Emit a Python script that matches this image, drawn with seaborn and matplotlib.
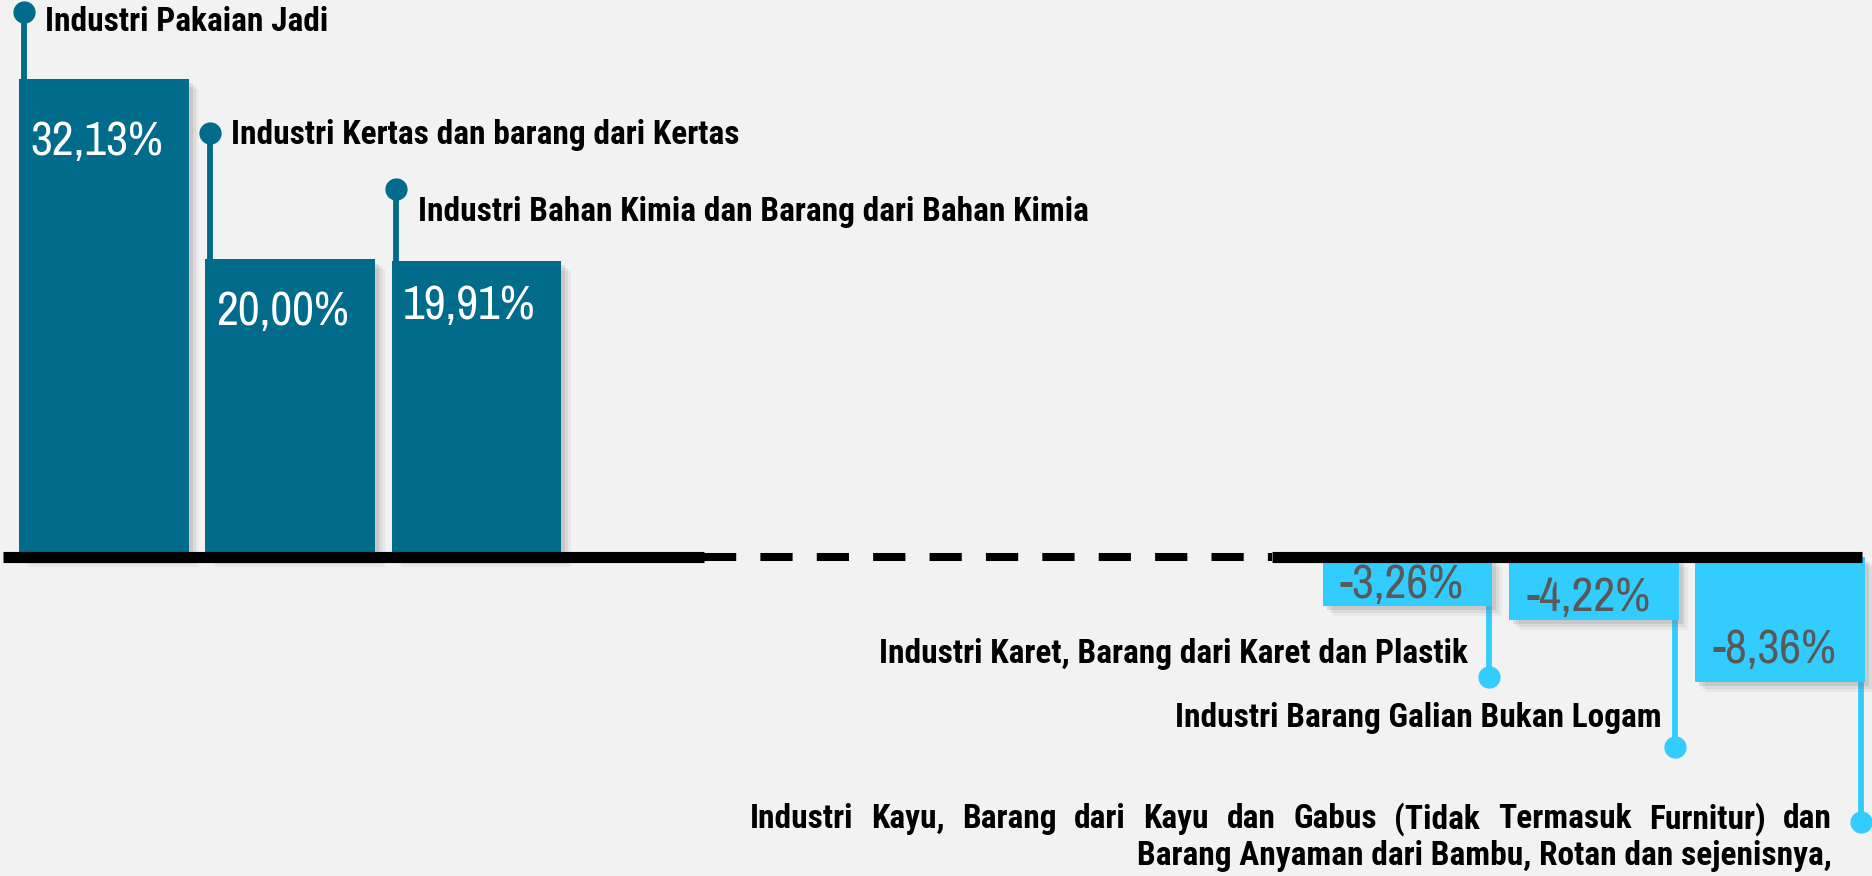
import matplotlib
matplotlib.use("Agg")
import matplotlib.pyplot as plt
import numpy as np
import pandas as pd
import seaborn as sns
from matplotlib import patheffects as pe
from matplotlib import font_manager as fm

# ---- data -------------------------------------------------------------
sektor = [
    "Industri Pakaian Jadi",
    "Industri Kertas dan barang dari Kertas",
    "Industri Bahan Kimia dan Barang dari Bahan Kimia",
    "Industri Karet, Barang dari Karet dan Plastik",
    "Industri Barang Galian Bukan Logam",
    "Industri Kayu, Barang dari Kayu dan Gabus (Tidak Termasuk Furnitur) dan "
    "Barang Anyaman dari Bambu, Rotan dan sejenisnya,",
]
pertumbuhan = [32.13, 20.00, 19.91, -3.26, -4.22, -8.36]

# ---- style ------------------------------------------------------------
BG = "#F2F2F2"
DARK = "#006B8A"
LIGHT = "#33CCFF"
GREY_TXT = "#595959"

sns.set_theme(style="white")
names = {f.name for f in fm.fontManager.ttflist}
NARROW = next((n for n in ("Roboto Condensed", "Archivo Narrow", "PT Sans Narrow",
                           "Liberation Sans") if n in names), "DejaVu Sans")
NUM_FONT = next((n for n in ("Archivo Narrow", "PT Sans Narrow", "Roboto Condensed")
                 if n in names), NARROW)
plt.rcParams["font.family"] = [NARROW, "DejaVu Sans"]

gap_slots = ["\u2009", "\u2009\u2009", "\u2009" * 3, "\u2009" * 4]
order = sektor[:3] + gap_slots + sektor[3:]
df = pd.DataFrame({"sektor": sektor, "pertumbuhan": pertumbuhan})
palette = {s: (DARK if v >= 0 else LIGHT) for s, v in zip(sektor, pertumbuhan)}

W, H = 1872, 876
fig = plt.figure(figsize=(W / 100, H / 100), dpi=100, facecolor=BG)
ax = fig.add_axes([0, 0, 1, 1])
ax.set_facecolor(BG)

sns.barplot(data=df, x="sektor", y="pertumbuhan", hue="sektor", order=order,
            palette=palette, dodge=False, width=0.91, legend=False,
            saturation=1, ax=ax, zorder=2)

shadow = [pe.SimplePatchShadow(offset=(o, -o), shadow_rgbFace="#7a7a7a", alpha=a)
          for o, a in ((7, 0.08), (5, 0.12), (3, 0.18))] + [pe.Normal()]
for p in ax.patches:
    p.set_path_effects(shadow)
    p.set_linewidth(0)

ax.set_xlim(-0.558, 9.494)
ax.set_ylim(-21.39, 37.42)
ax.set_axis_off()

# baseline: solid, dashed gap, solid
ax.plot([-0.54, 3.22], [0, 0], color="black", lw=8, solid_capstyle="butt", zorder=4)
ax.plot([3.22, 6.27], [0, 0], color="black", lw=5.8, ls=(0, (4.0, 3.0)), zorder=4)
ax.plot([6.27, 9.44], [0, 0], color="black", lw=8, solid_capstyle="butt", zorder=4)

fig.canvas.draw()
renderer = fig.canvas.get_renderer()


def text_width_px(s, size, weight="normal", family=None):
    t = ax.text(0, 0, s, fontsize=size, fontweight=weight,
                family=family if family else plt.rcParams["font.family"])
    w = t.get_window_extent(renderer).width
    t.remove()
    return w


# font sizes chosen so that text runs to the intended pixel widths
LABEL_FS = 25 * 283 / text_width_px("Industri Pakaian Jadi", 25, "bold")
VALUE_FS = 34 * 133 / text_width_px("32,13%", 34, family=[NUM_FONT, "DejaVu Sans"])

# bar geometry from the plotted patches
bars = [p for p in ax.patches if abs(p.get_height()) > 0]
bars.sort(key=lambda p: p.get_x())

# value labels inside bars
val_dy = [-4.2, -3.5, -3.0, 1.45, 1.5, 2.2]
for p, v, dy in zip(bars, pertumbuhan, val_dy):
    cx = p.get_x() + p.get_width() / 2
    txt = f"{v:.2f}%".replace(".", ",")
    ax.text(cx - 0.04 if v > 0 else cx - 0.03, v + dy, txt,
            ha="center", va="center", fontsize=VALUE_FS,
            family=[NUM_FONT, "DejaVu Sans"],
            color="white" if v > 0 else GREY_TXT, zorder=5)

# pins and category labels
pin_color = {True: DARK, False: LIGHT}
pin_head = [36.6, 28.5, 24.7, -8.01, -12.74, -17.79]
pin_tail = [None, 17.4, 18.2, -2.4, -3.0, -8.0]
lab_y = [35.95, 28.35, 23.2, -6.5, -10.8, None]

for i, (p, v) in enumerate(zip(bars, pertumbuhan)):
    pos = v > 0
    if pos:
        px = p.get_x() + 0.025
    else:
        px = p.get_x() + p.get_width() - 0.02
    tail = v if pin_tail[i] is None else pin_tail[i]
    ax.plot([px, px], [pin_head[i], tail], color=pin_color[pos], lw=4.2,
            solid_capstyle="butt", zorder=1.5)
    ax.plot([px], [pin_head[i]], "o", ms=15, color=pin_color[pos], zorder=6)
    if pos:
        ax.text(px + 0.115, lab_y[i], sektor[i], ha="left", va="center",
                fontsize=LABEL_FS, fontweight="bold", color="black", zorder=6)
    elif lab_y[i] is not None:
        ax.text(px - 0.11 if i == 3 else px - 0.07, lab_y[i], sektor[i],
                ha="right", va="center", fontsize=LABEL_FS, fontweight="bold",
                color="black", zorder=6)

# last category: two-line paragraph, first line justified
long_lines = [
    "Industri Kayu, Barang dari Kayu dan Gabus (Tidak Termasuk Furnitur) dan",
    "Barang Anyaman dari Bambu, Rotan dan sejenisnya,",
]
right_x = bars[-1].get_x() + bars[-1].get_width() - 0.02 - 0.155
left_x = 3.468
inv = ax.transData.inverted()
words = long_lines[0].split(" ")
widths = []
for w in words:
    t = ax.text(0, 0, w, fontsize=LABEL_FS, fontweight="bold")
    bb = t.get_window_extent(renderer)
    widths.append(inv.transform((bb.x1, bb.y0))[0] - inv.transform((bb.x0, bb.y0))[0])
    t.remove()
space = (right_x - left_x - sum(widths)) / (len(words) - 1)
x = left_x
for w, wd in zip(words, widths):
    ax.text(x, -17.55, w, ha="left", va="center", fontsize=LABEL_FS,
            fontweight="bold", color="black", zorder=6)
    x += wd + space
ax.text(right_x, -20.05, long_lines[1], ha="right", va="center", fontsize=LABEL_FS,
        fontweight="bold", color="black", zorder=6)

fig.savefig("out.png", dpi=100, facecolor=BG)
